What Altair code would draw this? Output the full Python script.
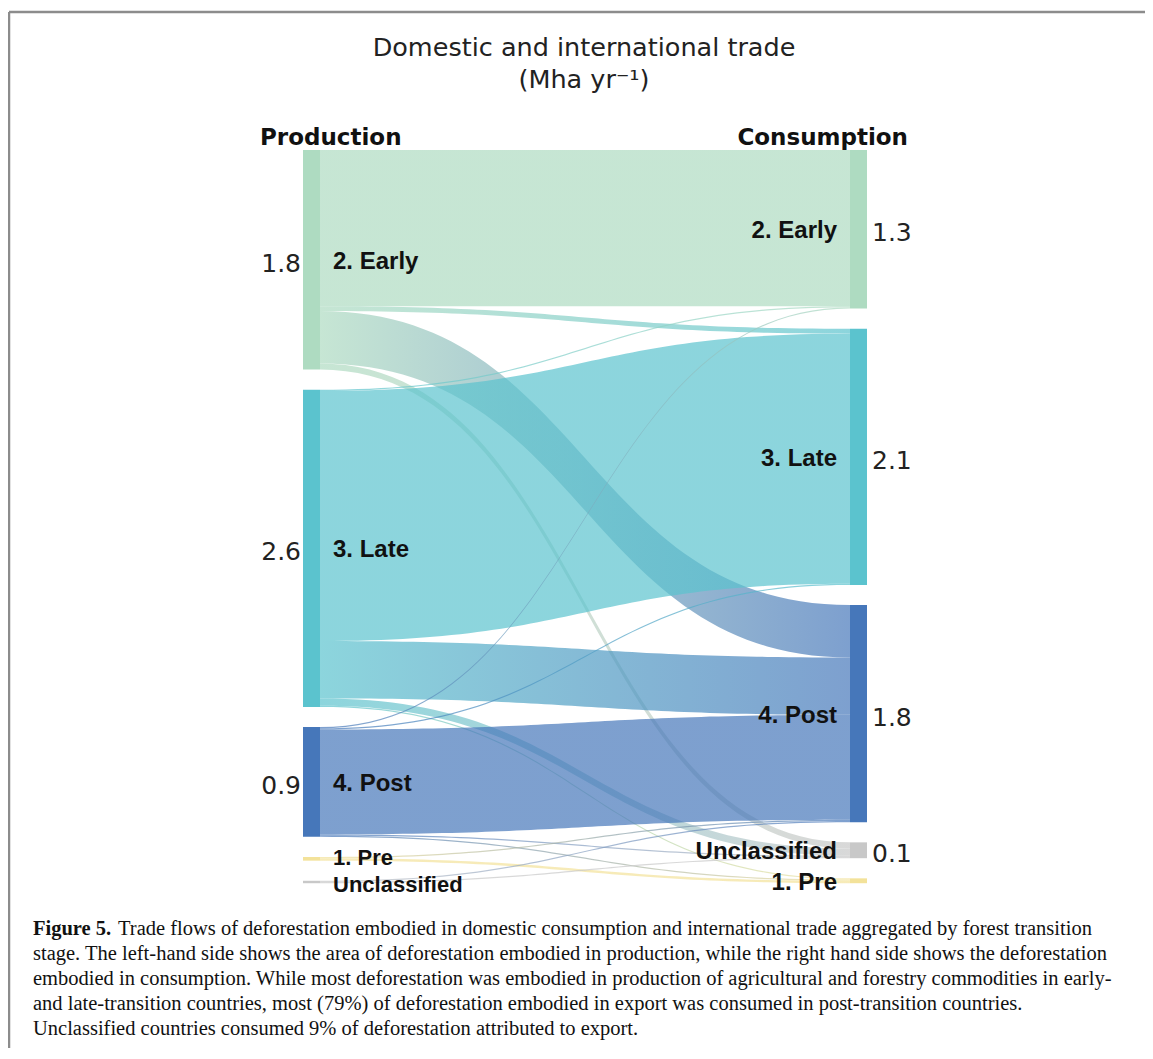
import altair as alt
import numpy as np
import pandas as pd

# ------------------------------------------------------------------ data
left_order = ["2. Early", "3. Late", "4. Post", "1. Pre", "Unclassified"]
right_order = ["2. Early", "3. Late", "4. Post", "Unclassified", "1. Pre"]

flow_source = ["2. Early"] * 4 + ["3. Late"] * 5 + ["4. Post"] * 5 + ["1. Pre"] * 2 + ["Unclassified"] * 2
flow_target = ["2. Early", "3. Late", "4. Post", "Unclassified",
               "2. Early", "3. Late", "4. Post", "Unclassified", "1. Pre",
               "2. Early", "3. Late", "4. Post", "Unclassified", "1. Pre",
               "4. Post", "1. Pre",
               "4. Post", "Unclassified"]
flow_value = [1.28, 0.04, 0.43, 0.05,
              0.01, 2.05, 0.47, 0.06, 0.01,
              0.01, 0.01, 0.86, 0.01, 0.01,
              0.01, 0.02,
              0.01, 0.01]

stage_color = {"2. Early": "#aedbc1", "3. Late": "#5bc3ce", "4. Post": "#4677ba",
               "1. Pre": "#f3e29a", "Unclassified": "#c8c8c8"}

title_lines = ["Domestic and international trade", "(Mha yr\u207b\u00b9)"]
header_left = "Production"
header_right = "Consumption"
caption_bold = "Figure 5."
caption_first = ("Trade flows of deforestation embodied in domestic consumption and international "
                 "trade aggregated by forest transition")
caption_rest = [
    "stage. The left-hand side shows the area of deforestation embodied in production, while the right hand side shows the deforestation",
    "embodied in consumption. While most deforestation was embodied in production of agricultural and forestry commodities in early-",
    "and late-transition countries, most (79%) of deforestation embodied in export was consumed in post-transition countries.",
    "Unclassified countries consumed 9% of deforestation attributed to export.",
]

# ------------------------------------------------------------------ sankey layout (data units)
GAP = 0.165
NW = 17 / 530  # node width as fraction of link span

flows = pd.DataFrame({"src": flow_source, "tgt": flow_target, "v": flow_value})
tot_left = flows.groupby("src")["v"].sum().to_dict()
tot_right = flows.groupby("tgt")["v"].sum().to_dict()


def stack(order, totals):
    tops, y = {}, 0.0
    for s in order:
        tops[s] = y
        y += totals[s] + GAP
    return tops


top_left = stack(left_order, tot_left)
top_right = stack(right_order, tot_right)

flows["ys"] = 0.0
flows["yt"] = 0.0
for s in left_order:
    cur = top_left[s]
    sub = flows[flows.src == s].copy()
    sub["k"] = sub.tgt.map(right_order.index)
    for idx in sub.sort_values("k").index:
        flows.loc[idx, "ys"] = cur
        cur += flows.loc[idx, "v"]
for t in right_order:
    cur = top_right[t]
    sub = flows[flows.tgt == t].copy()
    sub["k"] = sub.src.map(left_order.index)
    for idx in sub.sort_values("k").index:
        flows.loc[idx, "yt"] = cur
        cur += flows.loc[idx, "v"]

rows = []
u = np.linspace(0, 1, 61)
bx = 1.5 * u * (1 - u) + u ** 3
by = 3 * u ** 2 - 2 * u ** 3
for i, f in flows.iterrows():
    yc = f.ys + (f.yt - f.ys) * by
    for xx, yy in zip(bx, yc):
        rows.append({"fid": i, "x": float(xx), "y0": float(yy), "y1": float(yy + f.v)})
bands = pd.DataFrame(rows)

nodes = []
for s in left_order:
    nodes.append({"side": "L", "stage": s, "x": -NW, "x2": 0.0, "y": top_left[s],
                  "y2": top_left[s] + tot_left[s], "total": tot_left[s], "color": stage_color[s]})
for s in right_order:
    nodes.append({"side": "R", "stage": s, "x": 1.0, "x2": 1.0 + NW, "y": top_right[s],
                  "y2": top_right[s] + tot_right[s], "total": tot_right[s], "color": stage_color[s]})
nodes = pd.DataFrame(nodes)
nodes["mid"] = (nodes.y + nodes.y2) / 2

# ------------------------------------------------------------------ chart
W, H = 1137, 1040
xs = alt.Scale(domain=[0, 1], range=[312, 842])
ys = alt.Scale(domain=[0, 6], range=[142, 142 + 6 * 122])
X = alt.X("x:Q", scale=xs, axis=None)
YM = alt.Y("mid:Q", scale=ys, axis=None)

layers = []
for i, f in flows.iterrows():
    grad = alt.LinearGradient(
        gradient="linear",
        stops=[alt.GradientStop(color=stage_color[f.src], offset=0),
               alt.GradientStop(color=stage_color[f.tgt], offset=1)],
        x1=0, x2=1, y1=0, y2=0)
    layers.append(
        alt.Chart(bands).transform_filter(alt.datum.fid == int(i))
        .mark_area(color=grad, opacity=0.7, orient="vertical")
        .encode(x=X, y=alt.Y("y0:Q", scale=ys, axis=None), y2="y1:Q")
    )

node_layer = alt.Chart(nodes).mark_rect().encode(
    x=X, x2="x2:Q", y=alt.Y("y:Q", scale=ys, axis=None), y2="y2:Q",
    color=alt.Color("color:N", scale=None))
layers.append(node_layer)

lab_font = "Liberation Sans"
num_font = "DejaVu Sans"
left_lab = alt.Chart(nodes).transform_filter(
    (alt.datum.side == "L") & (alt.datum.total >= 0.095)).mark_text(
    align="left", baseline="middle", dx=13, dy=2, font=lab_font, fontSize=24,
    fontWeight="bold", color="#111").encode(
    x=alt.X("x2:Q", scale=xs, axis=None), y=YM, text="stage:N")
left_small_a = alt.Chart(nodes).transform_filter(
    (alt.datum.side == "L") & (alt.datum.stage == "1. Pre")).mark_text(
    align="left", baseline="middle", dx=13, dy=-1, font=lab_font, fontSize=22,
    fontWeight="bold", color="#111").encode(
    x=alt.X("x2:Q", scale=xs, axis=None), y=YM, text="stage:N")
left_small_b = alt.Chart(nodes).transform_filter(
    (alt.datum.side == "L") & (alt.datum.stage == "Unclassified")).mark_text(
    align="left", baseline="middle", dx=13, dy=3, font=lab_font, fontSize=22,
    fontWeight="bold", color="#111").encode(
    x=alt.X("x2:Q", scale=xs, axis=None), y=YM, text="stage:N")
right_lab = alt.Chart(nodes).transform_filter(alt.datum.side == "R").mark_text(
    align="right", baseline="middle", dx=-13, dy=2, font=lab_font, fontSize=24,
    fontWeight="bold", color="#111").encode(x=X, y=YM, text="stage:N")
left_val = alt.Chart(nodes).transform_filter(
    (alt.datum.side == "L") & (alt.datum.total >= 0.095)).transform_calculate(
    lbl="format(datum.total, '.1f')").mark_text(
    align="right", baseline="middle", dx=-2, dy=4, font=num_font, fontSize=25,
    color="#222").encode(x=X, y=YM, text="lbl:N")
right_val = alt.Chart(nodes).transform_filter(
    (alt.datum.side == "R") & (alt.datum.total >= 0.095)).transform_calculate(
    lbl="format(datum.total, '.1f')").mark_text(
    align="left", baseline="middle", dx=5, dy=4, font=num_font, fontSize=25,
    color="#222").encode(x=alt.X("x2:Q", scale=xs, axis=None), y=YM, text="lbl:N")
layers += [left_val, right_val, left_lab, left_small_a, left_small_b, right_lab]

one = pd.DataFrame({"k": [0]})


def txt(text, x, y, **kw):
    return alt.Chart(one).mark_text(text=text, **kw).encode(x=alt.value(x), y=alt.value(y))


layers.append(txt(title_lines[0], 576, 48, align="center", baseline="alphabetic",
                  font=num_font, fontSize=25.5, color="#222"))
layers.append(txt(title_lines[1], 576, 80, align="center", baseline="alphabetic",
                  font=num_font, fontSize=25.5, color="#222"))
layers.append(txt(header_left, 252, 137, align="left", baseline="alphabetic",
                  font=num_font, fontSize=23, fontWeight="bold", color="#111"))
layers.append(txt(header_right, 900, 137, align="right", baseline="alphabetic",
                  font=num_font, fontSize=23, fontWeight="bold", color="#111"))

cap_font = "Liberation Serif"
CAP_FS = 20.5
layers.append(txt(caption_bold, 25, 927, align="left", baseline="alphabetic",
                  font=cap_font, fontSize=CAP_FS, fontWeight="bold", color="#111"))
layers.append(txt(caption_first, 110, 927, align="left", baseline="alphabetic",
                  font=cap_font, fontSize=CAP_FS, color="#111"))
layers.append(txt(caption_rest, 25, 952, align="left", baseline="alphabetic",
                  font=cap_font, fontSize=CAP_FS, lineHeight=25, color="#111"))

# figure frame (top and left edge)
layers.append(alt.Chart(one).mark_rule(color="#8c8c8c", strokeWidth=2.5).encode(
    x=alt.value(1), x2=alt.value(W), y=alt.value(4)))
layers.append(alt.Chart(one).mark_rule(color="#8c8c8c", strokeWidth=2.5).encode(
    x=alt.value(1), y=alt.value(4), y2=alt.value(H)))

chart = alt.layer(*layers).properties(
    width=W, height=H, autosize=alt.AutoSizeParams(type="none"), padding=0
).configure_view(stroke=None)

chart.save("out.html", embed_options={"renderer": "svg", "actions": False})
